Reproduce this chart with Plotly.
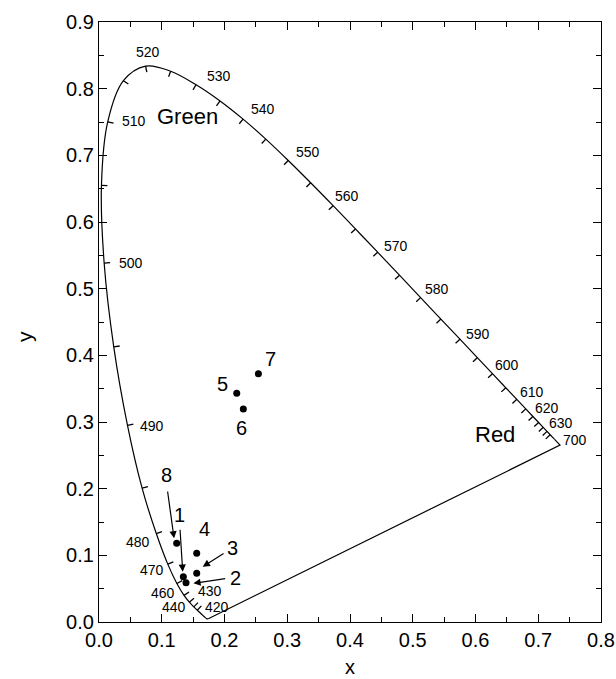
import numpy as np
import plotly.graph_objects as go

# CIE 1931 spectral locus (5 nm steps)
wl = [380, 385, 390, 395, 400, 405, 410, 415, 420, 425, 430, 435, 440, 445, 450, 455,
      460, 465, 470, 475, 480, 485, 490, 495, 500, 505, 510, 515, 520, 525, 530, 535,
      540, 545, 550, 555, 560, 565, 570, 575, 580, 585, 590, 595, 600, 605, 610, 615,
      620, 625, 630, 635, 640, 645, 650, 700]
locus_x = [0.1741, 0.1740, 0.1738, 0.1736, 0.1733, 0.1730, 0.1726, 0.1721, 0.1714, 0.1703,
           0.1689, 0.1669, 0.1644, 0.1611, 0.1566, 0.1510, 0.1440, 0.1355, 0.1241, 0.1096,
           0.0913, 0.0687, 0.0454, 0.0235, 0.0082, 0.0039, 0.0139, 0.0389, 0.0743, 0.1142,
           0.1547, 0.1929, 0.2296, 0.2658, 0.3016, 0.3373, 0.3731, 0.4087, 0.4441, 0.4788,
           0.5125, 0.5448, 0.5752, 0.6029, 0.6270, 0.6482, 0.6658, 0.6801, 0.6915, 0.7006,
           0.7079, 0.7140, 0.7190, 0.7230, 0.7260, 0.7347]
locus_y = [0.0050, 0.0050, 0.0049, 0.0049, 0.0048, 0.0048, 0.0048, 0.0048, 0.0051, 0.0058,
           0.0069, 0.0086, 0.0109, 0.0138, 0.0177, 0.0227, 0.0297, 0.0399, 0.0578, 0.0868,
           0.1327, 0.2007, 0.2950, 0.4127, 0.5384, 0.6548, 0.7502, 0.8120, 0.8338, 0.8262,
           0.8059, 0.7816, 0.7543, 0.7243, 0.6923, 0.6589, 0.6245, 0.5896, 0.5547, 0.5202,
           0.4866, 0.4544, 0.4242, 0.3965, 0.3725, 0.3514, 0.3340, 0.3197, 0.3083, 0.2993,
           0.2920, 0.2859, 0.2809, 0.2770, 0.2740, 0.2653]

# wavelength labels
wl_labels = ["520", "530", "540", "550", "560", "570", "580", "590", "600", "610", "620",
             "630", "700", "510", "500", "490", "480", "470", "460", "440", "430", "420"]
wl_label_x = [0.0786, 0.1913, 0.2614, 0.3337, 0.3948, 0.474, 0.5388, 0.6041, 0.6504, 0.6897,
              0.7141, 0.7364, 0.758, 0.0553, 0.0513, 0.0845, 0.0622, 0.0845, 0.1012, 0.1203,
              0.1765, 0.1876]
wl_label_y = [0.8555, 0.819, 0.769, 0.7045, 0.6395, 0.564, 0.499, 0.432, 0.3855, 0.3455,
              0.3205, 0.299, 0.273, 0.752, 0.539, 0.2945, 0.12, 0.078, 0.044, 0.023,
              0.046, 0.022]

# sample points
pt_names = ["1", "2", "3", "4", "5", "6", "7", "8"]
pt_x = [0.1344, 0.1387, 0.1557, 0.1557, 0.2195, 0.2300, 0.2540, 0.1238]
pt_y = [0.068, 0.059, 0.073, 0.103, 0.343, 0.3195, 0.3725, 0.118]
pt_label_x = [0.128, 0.2168, 0.213, 0.1674, 0.197, 0.2275, 0.2737, 0.1079]
pt_label_y = [0.1605, 0.0655, 0.1105, 0.139, 0.357, 0.2905, 0.394, 0.2205]

# arrows (tail -> head) for points 1, 2, 3, 8
arrow_names = ["1", "2", "3", "8"]
arrow_tail_x = [0.129, 0.2035, 0.2009, 0.109]
arrow_tail_y = [0.1405, 0.0655, 0.104, 0.198]
arrow_head_x = [0.1334, 0.1504, 0.1653, 0.1196]
arrow_head_y = [0.0755, 0.058, 0.083, 0.1255]

region_names = ["Green", "Red"]
region_x = [0.141, 0.631]
region_y = [0.758, 0.282]

# ---------- layout geometry ----------
W, H = 616, 679
ML, MR, MT, MB = 99, 15, 22, 57
PW, PH = W - ML - MR, H - MT - MB
XR, YR = [0, 0.8], [0, 0.9]
sx = PW / (XR[1] - XR[0])
sy = PH / (YR[1] - YR[0])

FONT = "Liberation Sans, Arial, sans-serif"

fig = go.Figure()

# closed locus (spectral curve + purple line)
fig.add_trace(go.Scatter(x=locus_x[:-1], y=locus_y[:-1], mode="lines",
                         line=dict(color="black", width=1.2, shape="spline", smoothing=1.0),
                         hoverinfo="skip", showlegend=False))
fig.add_trace(go.Scatter(x=[locus_x[-2], locus_x[-1], locus_x[0]],
                         y=[locus_y[-2], locus_y[-1], locus_y[0]], mode="lines",
                         line=dict(color="black", width=1.2),
                         hoverinfo="skip", showlegend=False))

# inward tick marks on locus every 5 nm
lx, ly = np.array(locus_x), np.array(locus_y)
tx, ty = [], []
L = 6.0
for i, w in enumerate(wl):
    if w < 450 or w > 640:
        continue
    dx = (lx[i + 1] - lx[i - 1]) * sx
    dy = (ly[i + 1] - ly[i - 1]) * sy
    n = np.hypot(dx, dy)
    nx, ny = dy / n, -dx / n
    tx += [lx[i], lx[i] + nx * L / sx, None]
    ty += [ly[i], ly[i] + ny * L / sy, None]
fig.add_trace(go.Scatter(x=tx, y=ty, mode="lines", line=dict(color="black", width=1.3),
                         hoverinfo="skip", showlegend=False))

# points
fig.add_trace(go.Scatter(x=pt_x, y=pt_y, mode="markers",
                         marker=dict(color="black", size=7), showlegend=False))

ann = []
for t, x, y in zip(wl_labels, wl_label_x, wl_label_y):
    ann.append(dict(x=x, y=y, text=t, showarrow=False, xref="x", yref="y",
                    font=dict(family=FONT, size=14, color="black")))
for t, x, y in zip(pt_names, pt_label_x, pt_label_y):
    ann.append(dict(x=x, y=y, text=t, showarrow=False, xref="x", yref="y",
                    font=dict(family=FONT, size=20, color="black")))
for t, x, y in zip(region_names, region_x, region_y):
    ann.append(dict(x=x, y=y, text=t, showarrow=False, xref="x", yref="y",
                    font=dict(family=FONT, size=22, color="black")))
for hx, hy, tx_, ty_ in zip(arrow_head_x, arrow_head_y, arrow_tail_x, arrow_tail_y):
    ann.append(dict(x=hx, y=hy, ax=tx_, ay=ty_, xref="x", yref="y", axref="x", ayref="y",
                    text="", showarrow=True, arrowhead=2, arrowsize=1.2, arrowwidth=1.2,
                    arrowcolor="black", standoff=0))
# axis titles
ann.append(dict(x=(350 - ML) / PW, y=-(667 - MT - PH) / PH, xref="paper", yref="paper",
                text="x", showarrow=False, yanchor="middle",
                font=dict(family=FONT, size=20, color="black")))
ann.append(dict(x=-(ML - 24) / PW, y=1 - (337 - MT) / PH, xref="paper", yref="paper",
                text="y", showarrow=False, textangle=-90, xanchor="center",
                font=dict(family=FONT, size=21, color="black")))

axis_common = dict(showgrid=False, zeroline=False, showline=True, linecolor="black",
                   linewidth=1.3, mirror="allticks", ticks="inside", ticklen=8,
                   tickwidth=1.3, tickcolor="black", dtick=0.1, tickformat=".1f",
                   tickfont=dict(family=FONT, size=20, color="black"),
                   minor=dict(ticks="inside", ticklen=5, dtick=0.05, tickwidth=1.3,
                              tickcolor="black", showgrid=False))

fig.update_xaxes(range=XR, **axis_common)
fig.update_yaxes(range=YR, **axis_common)
fig.update_layout(width=W, height=H, margin=dict(l=ML, r=MR, t=MT, b=MB, autoexpand=False),
                  plot_bgcolor="white", paper_bgcolor="white", annotations=ann,
                  showlegend=False)

fig.write_html("out.html", config={"displayModeBar": False},
               post_script="document.body.style.margin='0';document.body.style.overflow='hidden';")
